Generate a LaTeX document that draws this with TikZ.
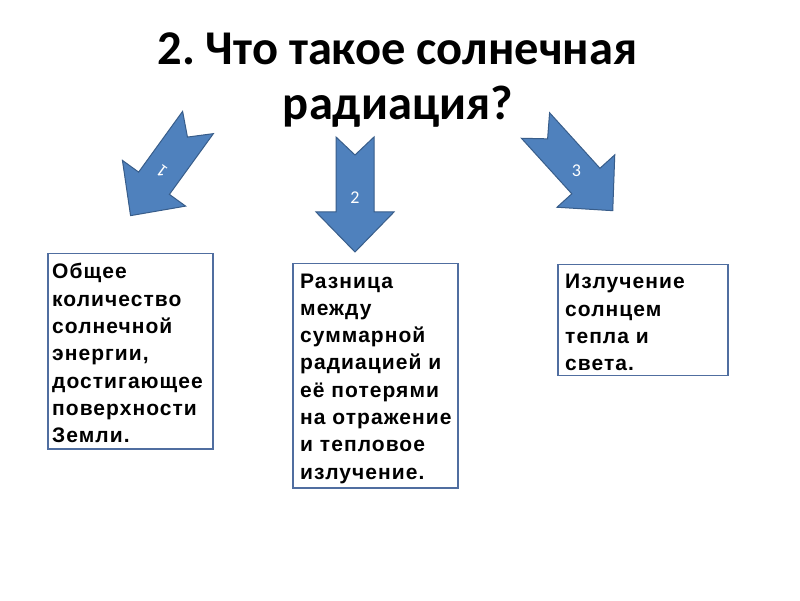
\documentclass[tikz,border=0pt]{standalone}
\usepackage{fontspec}
\setmainfont{Liberation Sans}[LetterSpace=5]
\newfontfamily\titlefont{Carlito}
\usetikzlibrary{calc}
\definecolor{arrfill}{HTML}{4F81BD}
\definecolor{arrdraw}{HTML}{385D8A}
\definecolor{boxdraw}{RGB}{80,110,160}
\frenchspacing
\begin{document}
\begin{tikzpicture}[x=1pt,y=1pt,
  arrowshape/.style={fill=arrfill,draw=arrdraw,line width=1pt,line join=miter},
  numlabel/.style={text=white,font=\titlefont\fontsize{18}{18}\selectfont,inner sep=0},
  textbox/.style={draw=boxdraw,line width=1.5pt,inner sep=0,anchor=north west},
  boxtext/.style={font=\bfseries\fontsize{21}{27.3}\selectfont,align=left,inner sep=0,anchor=base west},
  title/.style={font=\titlefont\bfseries\fontsize{48.5}{55}\selectfont,inner sep=0,anchor=base}]
\useasboundingbox (0,0) rectangle (800,600);
\fill[white] (0,0) rectangle (800,600);
% title
\node[title] (t1) at (397.5,535) {2. Что такое солнечная};
\node[title] (t2) at (398,480) {радиация?};
% arrow 1
\begin{scope}[shift={(198,477.5)},rotate=234.1]
\draw[arrowshape] (0,19)--(18,0)--(0,-19)--(75,-19)--(75,-39)--(115,0)--(75,39)--(75,19)--cycle;
\node[numlabel,rotate=144] (n1) at (61,0) {1};
\end{scope}
% arrow 2
\begin{scope}[shift={(355,463)},rotate=270]
\draw[arrowshape] (0,19)--(18,0)--(0,-19)--(75,-19)--(75,-39)--(115,0)--(75,39)--(75,19)--cycle;
\node[numlabel] (n2) at (61,0) {2};
\end{scope}
% arrow 3
\begin{scope}[shift={(535.5,474.5)},rotate=-47.8]
\draw[arrowshape] (0,19)--(18,0)--(0,-19)--(75,-19)--(75,-39)--(115,0)--(75,39)--(75,19)--cycle;
\node[numlabel] (n3) at (61,0) {3};
\end{scope}
% boxes
\node[textbox,minimum width=165,minimum height=195] (b1) at (47,347) {};
\node[boxtext] (x1) at ($(b1.north west)+(5,-189.8)$) {Общее\\количество\\солнечной\\энергии,\\достигающее\\поверхности\\Земли.};
\node[textbox,minimum width=165,minimum height=224] (b2) at (292,337) {};
\node[boxtext] (x2) at ($(b2.north west)+(8,-216.1)$) {Разница\\между\\суммарной\\радиацией и\\её потерями\\на отражение\\и тепловое\\излучение.};
\node[textbox,minimum width=170,minimum height=111] (b3) at (557,336) {};
\node[boxtext] (x3) at ($(b3.north west)+(8,-106.9)$) {Излучение\\солнцем\\тепла и\\света.};
\end{tikzpicture}
\end{document}
